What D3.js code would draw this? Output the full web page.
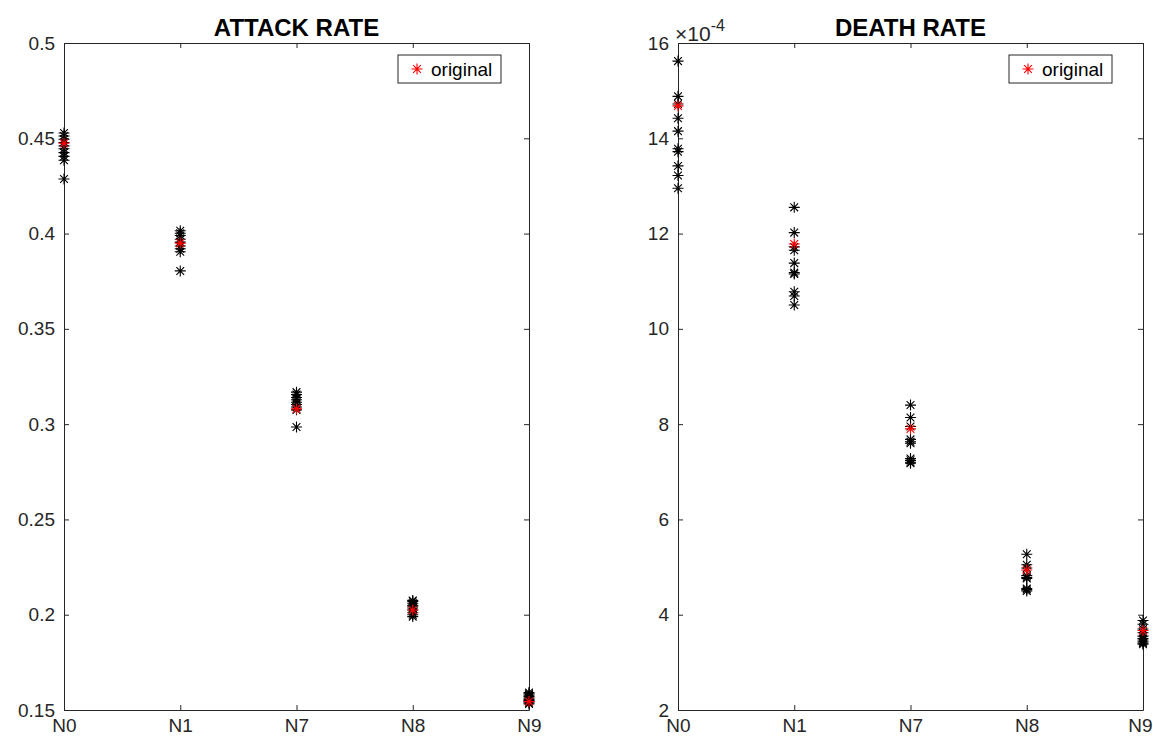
<!DOCTYPE html>
<html>
<head>
<meta charset="utf-8">
<script src="https://cdn.jsdelivr.net/npm/d3@7"></script>
<style>
  body { margin: 0; background: #fff; }
  svg { font-family: "Liberation Sans", Arial, Helvetica, sans-serif; }
</style>
</head>
<body>
<svg id="chart" width="1153" height="740"></svg>
<script>
// ---------------- DATA ----------------
const categories = ["N0", "N1", "N7", "N8", "N9"];

// Attack rate: perturbed runs (black) per category, original (red)
const attackSamples = [
  [0.4528, 0.4512, 0.4495, 0.4478, 0.4460, 0.4445, 0.4425, 0.4405, 0.4385, 0.4286],
  [0.4015, 0.4002, 0.3990, 0.3970, 0.3955, 0.3935, 0.3920, 0.3905, 0.3804],
  [0.3168, 0.3155, 0.3140, 0.3128, 0.3115, 0.3103, 0.3090, 0.3075, 0.2985],
  [0.2075, 0.2070, 0.2060, 0.2050, 0.2045, 0.2035, 0.2025, 0.2010, 0.2000, 0.1990],
  [0.1592, 0.1585, 0.1578, 0.1570, 0.1563, 0.1556, 0.1550, 0.1545, 0.1538, 0.1532]
];
const attackOriginal = [0.4474, 0.3950, 0.3080, 0.2025, 0.1544];
const attackTicks = [0.15, 0.2, 0.25, 0.3, 0.35, 0.4, 0.45, 0.5];
const attackTickLabels = ["0.15", "0.2", "0.25", "0.3", "0.35", "0.4", "0.45", "0.5"];

// Death rate (in units of 1e-4)
const deathSamples = [
  [15.62, 14.88, 14.72, 14.42, 14.15, 13.78, 13.72, 13.42, 13.22, 12.95],
  [12.55, 12.02, 11.72, 11.65, 11.38, 11.18, 11.15, 10.78, 10.69, 10.50],
  [8.40, 8.14, 7.95, 7.68, 7.63, 7.60, 7.28, 7.24, 7.20, 7.18],
  [5.27, 5.05, 4.98, 4.82, 4.78, 4.76, 4.55, 4.53, 4.50],
  [3.88, 3.80, 3.70, 3.62, 3.55, 3.50, 3.47, 3.43, 3.40, 3.38]
];
const deathOriginal = [14.68, 11.78, 7.90, 4.94, 3.67];
const deathTicks = [2, 4, 6, 8, 10, 12, 14, 16];
const deathTickLabels = ["2", "4", "6", "8", "10", "12", "14", "16"];

const titles = ["ATTACK RATE", "DEATH RATE"];
const legendLabel = "original";

// ---------------- DRAW ----------------
const svg = d3.select("#chart");
const axisColor = "#262626";
const tickFont = "19px";
const W = 1153;

function asteriskPath(r) {
  const d = r * 0.7071;
  return `M${-r},0L${r},0M0,${-r}L0,${r}M${-d},${-d}L${d},${d}M${-d},${d}L${d},${-d}`;
}

function drawPanel(cfg) {
  const { left, right, top, bottom, domain, ticks, tickLabels, samples, original, title, legendX, exponent } = cfg;
  const x = d3.scalePoint().domain(categories).range([left, right]).padding(0);
  const y = d3.scaleLinear().domain(domain).range([bottom, top]);
  const g = svg.append("g");

  g.append("rect").attr("x", left).attr("y", top).attr("width", right - left).attr("height", bottom - top)
    .attr("fill", "#fff");

  const styleAxis = sel => {
    sel.selectAll("path.domain").attr("stroke", axisColor).attr("stroke-width", 1);
    sel.selectAll(".tick line").attr("stroke", axisColor).attr("stroke-width", 1);
    sel.selectAll(".tick text").attr("fill", axisColor).style("font-size", tickFont)
      .style("font-family", '"Liberation Sans", Arial, sans-serif');
  };

  const xb = g.append("g").attr("transform", `translate(0,${bottom})`)
    .call(d3.axisBottom(x).tickSizeInner(-5).tickSizeOuter(0).tickPadding(8));
  styleAxis(xb);
  xb.selectAll(".tick text").attr("dy", "0.74em");
  // keep labels inside the page width
  xb.selectAll(".tick text").each(function (d) {
    const bb = this.getBBox();
    const overflow = x(d) + bb.x + bb.width - (W - 1);
    if (overflow > 0) d3.select(this).attr("x", -overflow);
  });
  const xt = g.append("g").attr("transform", `translate(0,${top})`)
    .call(d3.axisTop(x).tickSizeInner(-5).tickSizeOuter(0).tickFormat(""));
  styleAxis(xt);
  const yl = g.append("g").attr("transform", `translate(${left},0)`)
    .call(d3.axisLeft(y).tickValues(ticks).tickFormat((d, i) => tickLabels[i])
      .tickSizeInner(-5).tickSizeOuter(0).tickPadding(9));
  styleAxis(yl);
  const yr = g.append("g").attr("transform", `translate(${right},0)`)
    .call(d3.axisRight(y).tickValues(ticks).tickFormat("").tickSizeInner(-5).tickSizeOuter(0));
  styleAxis(yr);

  const path = asteriskPath(5.5);
  const flat = [];
  samples.forEach((arr, i) => arr.forEach(v => flat.push({ c: categories[i], v })));
  g.append("g").selectAll("path").data(flat).join("path")
    .attr("transform", d => `translate(${x(d.c)},${y(d.v)})`)
    .attr("d", path).attr("fill", "none").attr("stroke", "#000").attr("stroke-width", 1.1);
  g.append("g").selectAll("path").data(original.map((v, i) => ({ c: categories[i], v }))).join("path")
    .attr("transform", d => `translate(${x(d.c)},${y(d.v)})`)
    .attr("d", path).attr("fill", "none").attr("stroke", "#ff0000").attr("stroke-width", 1.1);

  g.append("text").attr("x", (left + right) / 2).attr("y", 36).attr("text-anchor", "middle")
    .style("font-size", "24px").style("font-weight", "bold").attr("fill", "#000").text(title);

  if (exponent) {
    const t = g.append("text").attr("x", left - 3).attr("y", 41).attr("fill", axisColor).style("font-size", "21px");
    t.append("tspan").text("\u00d710");
    t.append("tspan").attr("dy", -10).style("font-size", "16px").text(exponent);
  }

  const lw = 103, lh = 28, ly = 55;
  const lg = g.append("g").attr("transform", `translate(${legendX},${ly})`);
  lg.append("rect").attr("width", lw).attr("height", lh).attr("fill", "#fff")
    .attr("stroke", axisColor).attr("stroke-width", 1);
  lg.append("path").attr("transform", `translate(19,${lh / 2})`).attr("d", asteriskPath(5.5))
    .attr("fill", "none").attr("stroke", "#ff0000").attr("stroke-width", 1.1);
  lg.append("text").attr("x", 33).attr("y", lh / 2).attr("dy", "0.35em").style("font-size", "19px")
    .attr("fill", "#000").text(legendLabel);
}

drawPanel({
  left: 64, right: 529, top: 43, bottom: 710,
  domain: [0.15, 0.5], ticks: attackTicks, tickLabels: attackTickLabels,
  samples: attackSamples, original: attackOriginal, title: titles[0], legendX: 398
});
drawPanel({
  left: 678, right: 1143, top: 43, bottom: 710,
  domain: [2, 16], ticks: deathTicks, tickLabels: deathTickLabels,
  samples: deathSamples, original: deathOriginal, title: titles[1], legendX: 1009, exponent: "-4"
});
</script>
</body>
</html>
